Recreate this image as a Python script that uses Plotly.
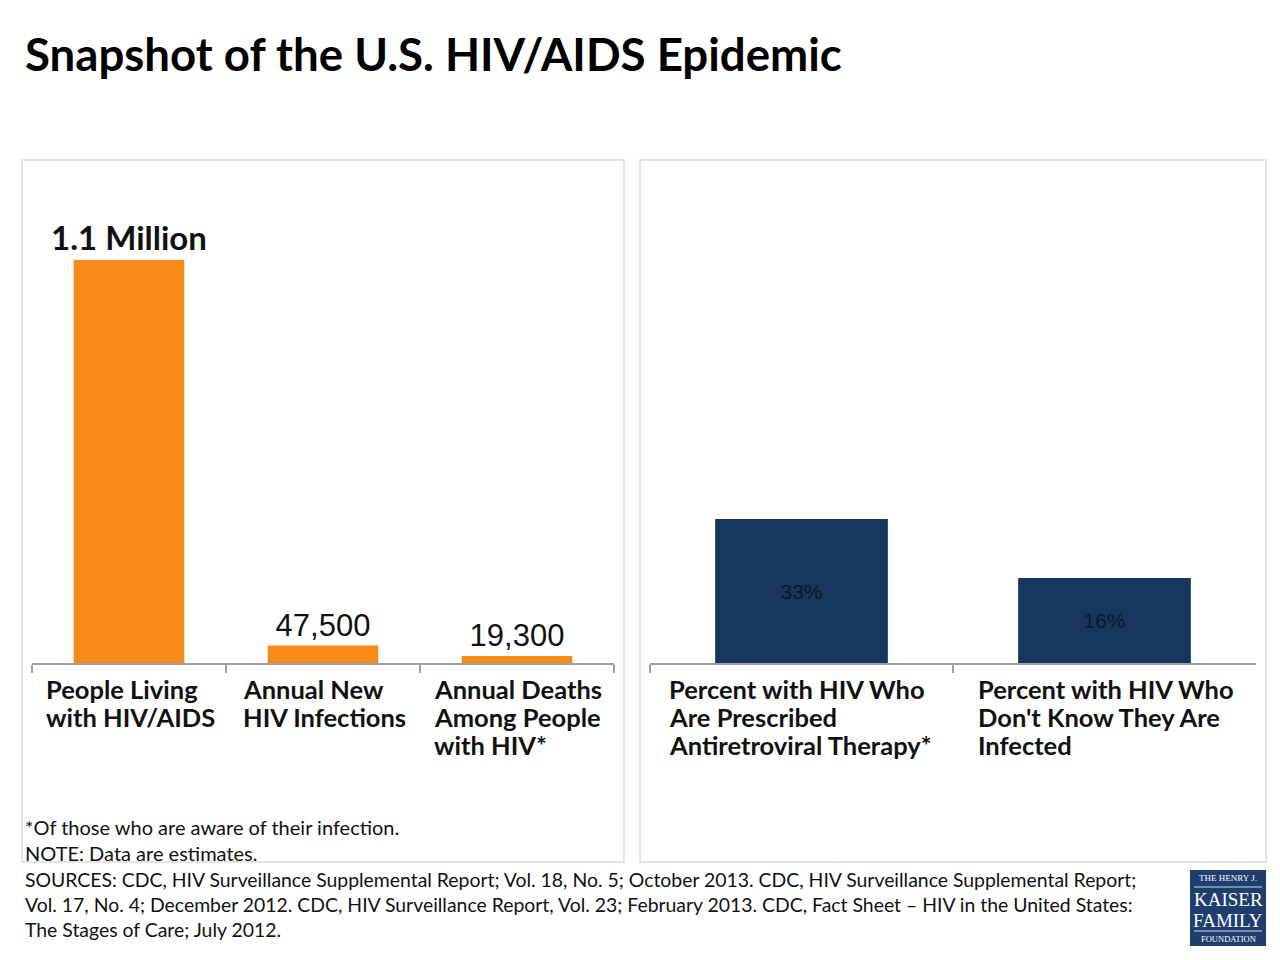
import plotly.graph_objects as go

# ---------------- data ----------------
left_categories = ["People Living<br>with HIV/AIDS",
                   "Annual New<br>HIV Infections",
                   "Annual Deaths<br>Among People<br>with HIV*"]
left_values = [1100000, 47500, 19300]
left_labels = ["<b>1.1 Million</b>", "47,500", "19,300"]

right_categories = ["Percent with HIV Who<br>Are Prescribed<br>Antiretroviral Therapy*",
                    "Percent with HIV Who<br>Don't Know They Are<br>Infected"]
right_values = [33, 16]
right_labels = ["33%", "16%"]

title_text = "Snapshot of the U.S. HIV/AIDS Epidemic"
footnote_lines = ["*Of those who are aware of their infection.",
                  "NOTE: Data are estimates."]
source_lines = ["SOURCES: CDC, HIV Surveillance Supplemental Report; Vol. 18, No. 5; October 2013. CDC, HIV Surveillance Supplemental Report;",
                "Vol. 17, No. 4; December 2012. CDC, HIV Surveillance Report, Vol. 23; February 2013. CDC, Fact Sheet \u2013 HIV in the United States:",
                "The Stages of Care; July 2012."]

# ---------------- style ----------------
OFF = 8                      # default page margin of the html body
W, H = 1280 - OFF, 960 - OFF
ORANGE = "#F88B17"
NAVY = "#17365D"
AXIS_GRAY = "#A0A0A0"
BORDER = "#DCDCDC"
FONT = "Lato, Carlito, 'Open Sans', sans-serif"
ARIAL = "'Liberation Sans', Arial, sans-serif"
RIGHT_FLOOR = -8.5  # right chart value axis does not start at zero in the original
# left edges (px) of the left-aligned category label blocks
LABEL_LEFT = {"x": [45, 242, 433], "x2": [668, 977]}


def px(x):
    return (x - OFF) / W


def py(y):
    return 1 - (y - OFF) / H


fig = go.Figure()

fig.add_trace(go.Bar(
    x=left_categories, y=left_values, xaxis="x", yaxis="y",
    marker=dict(color=ORANGE, line=dict(width=0)), width=0.57,
    text=left_labels, textposition="outside", constraintext="none",
    textfont=dict(family=[FONT, ARIAL, ARIAL], size=[33, 31, 31], color="#111111"),
    cliponaxis=False, hoverinfo="skip", showlegend=False,
))

fig.add_trace(go.Bar(
    x=right_categories, y=[v - RIGHT_FLOOR for v in right_values], base=RIGHT_FLOOR,
    xaxis="x2", yaxis="y2",
    marker=dict(color=NAVY, line=dict(width=0)), width=0.57,
    text=right_labels, textposition="inside", insidetextanchor="middle",
    constraintext="none",
    textfont=dict(family=ARIAL, size=21, color="#0C1828"),
    cliponaxis=False, hoverinfo="skip", showlegend=False,
))

axis_common = dict(showline=True, linecolor=AXIS_GRAY, linewidth=1.5,
                   ticks="outside", tickson="boundaries", ticklen=8,
                   tickcolor=AXIS_GRAY, tickwidth=1.5, showticklabels=False,
                   showgrid=False, zeroline=False, fixedrange=True)

fig.update_layout(
    width=W, height=H,
    margin=dict(l=0, r=0, t=0, b=0),
    paper_bgcolor="white", plot_bgcolor="rgba(0,0,0,0)",
    xaxis=dict(domain=[px(32), px(614)], anchor="y", **axis_common),
    yaxis=dict(domain=[py(663), py(260)], range=[0, max(left_values)],
               visible=False, fixedrange=True),
    xaxis2=dict(domain=[px(650), px(1256)], anchor="y2", **axis_common),
    yaxis2=dict(domain=[py(663), py(519)], range=[RIGHT_FLOOR, max(right_values)],
                visible=False, fixedrange=True),
    font=dict(family=FONT, color="#111111"),
)

shapes = [
    dict(type="rect", xref="paper", yref="paper", x0=px(22), x1=px(624),
         y0=py(862), y1=py(160), line=dict(color=BORDER, width=1.5), layer="below"),
    dict(type="rect", xref="paper", yref="paper", x0=px(640), x1=px(1266),
         y0=py(862), y1=py(160), line=dict(color=BORDER, width=1.5), layer="below"),
    # logo box
    dict(type="rect", xref="paper", yref="paper", x0=px(1190), x1=px(1266),
         y0=py(946), y1=py(870), fillcolor="#1E3E6E", line=dict(width=0)),
    dict(type="line", xref="paper", yref="paper", x0=px(1194), x1=px(1262),
         y0=py(887), y1=py(887), line=dict(color="white", width=0.8)),
    dict(type="line", xref="paper", yref="paper", x0=px(1194), x1=px(1262),
         y0=py(931), y1=py(931), line=dict(color="white", width=0.8)),
]

annotations = []
annotations.append(dict(text="<b>" + title_text + "</b>", xref="paper", yref="paper",
                        x=px(23), y=py(53), xanchor="left", yanchor="middle",
                        showarrow=False, font=dict(family=FONT, size=45.6, color="#000000")))

for xr, cats in (("x", left_categories), ("x2", right_categories)):
    for cat, left in zip(cats, LABEL_LEFT[xr]):
        for j, line in enumerate(cat.split("<br>")):
            annotations.append(dict(text="<b>" + line + "</b>", xref="paper", yref="paper",
                                    x=px(left - 1), y=py(689 + 28 * j),
                                    xanchor="left", yanchor="middle",
                                    showarrow=False,
                                    font=dict(family=FONT, size=25.5, color="#111111")))

for i, line in enumerate(footnote_lines):
    annotations.append(dict(text=line, xref="paper", yref="paper",
                            x=px(23), y=py(827 + 26 * i), xanchor="left", yanchor="middle",
                            showarrow=False, font=dict(family=FONT, size=20, color="#111111")))
for i, line in enumerate(source_lines):
    annotations.append(dict(text=line, xref="paper", yref="paper",
                            x=px(23), y=py(879 + 25 * i), xanchor="left", yanchor="middle",
                            showarrow=False, font=dict(family=FONT, size=19.4, color="#111111")))

logo_lines = [("THE HENRY J.", 878, 9), ("KAISER", 899, 19), ("FAMILY", 920, 19),
              ("FOUNDATION", 939, 8.5)]
for txt, yy, sz in logo_lines:
    annotations.append(dict(text=txt, xref="paper", yref="paper", x=px(1228), y=py(yy),
                            xanchor="center", yanchor="middle", showarrow=False,
                            font=dict(family="'Liberation Serif', 'DejaVu Serif', serif",
                                      size=sz, color="white")))

fig.update_layout(shapes=shapes, annotations=annotations)

fig.write_html("out.html")
